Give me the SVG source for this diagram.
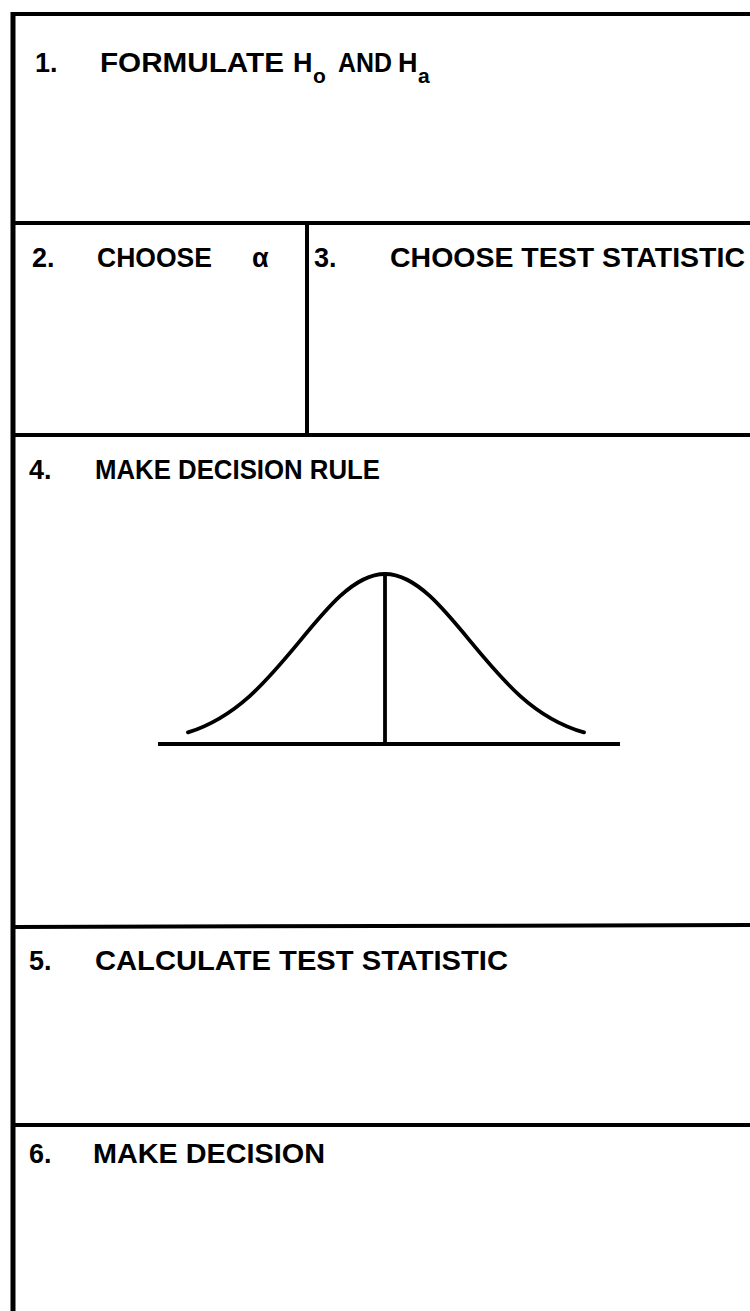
<svg xmlns="http://www.w3.org/2000/svg" width="750" height="1311" viewBox="0 0 750 1311">
<style>
.rule{stroke:#000;stroke-width:4;fill:none;stroke-linecap:butt}
.t{font-family:"Liberation Sans","Arial",sans-serif;font-weight:bold;font-size:27px;fill:#000}
.sub{font-family:"Liberation Sans","Arial",sans-serif;font-weight:bold;font-size:21px;fill:#000}
.curve{stroke:#000;stroke-width:3.8;fill:none;stroke-linejoin:round;stroke-linecap:round}
</style>
<rect width="750" height="1311" fill="#fff"/>
<g id="frame">
<line class="rule" x1="13" y1="14" x2="750" y2="14"/>
<line class="rule" x1="13" y1="12" x2="13" y2="1311" style="stroke-width:5"/>
<line class="rule" x1="13" y1="223" x2="750" y2="223"/>
<line class="rule" x1="307" y1="223" x2="307" y2="435"/>
<line class="rule" x1="13" y1="435" x2="750" y2="435"/>
<line class="rule" x1="13" y1="927" x2="750" y2="925"/>
<line class="rule" x1="13" y1="1125" x2="750" y2="1125"/>
</g>
<g id="connectors"></g>
<g id="step1">
<text class="t" x="35" y="72">1.</text>
<text class="t" x="100" y="72" textLength="184" lengthAdjust="spacingAndGlyphs">FORMULATE</text>
<text class="t" x="293" y="72">H</text>
<text class="sub" x="313" y="83">o</text>
<text class="t" x="338" y="72" textLength="54" lengthAdjust="spacingAndGlyphs">AND</text>
<text class="t" x="398" y="72">H</text>
<text class="sub" x="418" y="83">a</text>
</g>
<g id="step2">
<text class="t" x="32" y="267">2.</text>
<text class="t" x="97" y="267" textLength="115" lengthAdjust="spacingAndGlyphs">CHOOSE</text>
<text class="t" x="252" y="267">α</text>
</g>
<g id="step3">
<text class="t" x="314" y="267">3.</text>
<text class="t" x="390" y="267" textLength="355" lengthAdjust="spacingAndGlyphs">CHOOSE TEST STATISTIC</text>
</g>
<g id="step4">
<text class="t" x="29" y="479">4.</text>
<text class="t" x="95" y="479" textLength="285" lengthAdjust="spacingAndGlyphs">MAKE DECISION RULE</text>
<g id="normal-curve">
<line class="curve" x1="158" y1="744" x2="620" y2="744" style="stroke-linecap:butt"/>
<line class="curve" x1="385" y1="574" x2="385" y2="744" style="stroke-linecap:butt"/>
<path class="curve" d="M188,732.4 C208.7,725.9 229.3,714.4 250,695.8 C266.7,680.8 283.3,661.1 300,640.9 C313.3,624.7 326.7,608.5 340,596.2 C355,582.4 370,574 385,574 C400,574 415,582.4 430,596.2 C443.3,608.5 456.7,624.7 470,640.9 C486.7,661.1 503.3,680.8 520,695.8 C540.7,714.4 561.3,725.9 584,732.4"/>
</g>
</g>
<g id="step5">
<text class="t" x="29" y="970">5.</text>
<text class="t" x="95" y="970" textLength="413" lengthAdjust="spacingAndGlyphs">CALCULATE TEST STATISTIC</text>
</g>
<g id="step6">
<text class="t" x="29" y="1163">6.</text>
<text class="t" x="93" y="1163" textLength="232" lengthAdjust="spacingAndGlyphs">MAKE DECISION</text>
</g>
</svg>
